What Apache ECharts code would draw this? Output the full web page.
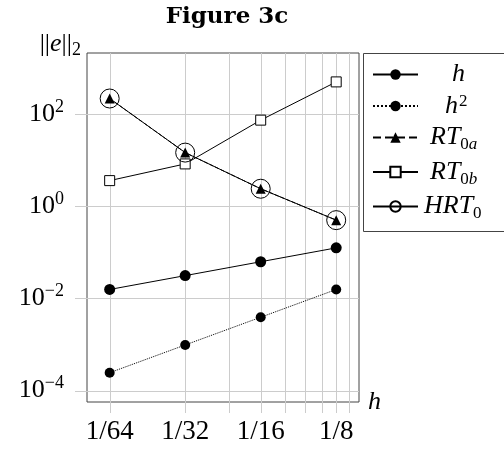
<!DOCTYPE html>
<html>
<head>
<meta charset="utf-8">
<script src="https://cdn.jsdelivr.net/npm/echarts@6/dist/echarts.min.js"></script>
<style>
html, body { margin: 0; padding: 0; background: #fff; }
#chart { width: 504px; height: 453px; }
</style>
</head>
<body>
<div id="chart"></div>
<script>
// mesh sizes and the error norms ||e||_2 for each method
var hValues = [1/64, 1/32, 1/16, 1/8];
var errH = [1/64, 1/32, 1/16, 1/8];
var errH2 = [1/4096, 1/1024, 1/256, 1/64];
var errRT0a = [218, 14.6, 2.4, 0.5];
var errRT0b = [3.6, 8.3, 74, 500];
var errHRT0 = [218, 14.6, 2.4, 0.5];

var seriesNames = ['h', 'h2', 'RT0a', 'RT0b', 'HRT0'];
var legendTexts = [
    '{p1| }{i|h}',
    '{p2| }{i|h}{sup|2}',
    '{p3| }{i|RT}{sub|0}{subi|a}',
    '{p3| }{i|RT}{sub|0}{subi|b}',
    '{p0| }{i|HRT}{sub|0}'
];
var xTickLabels = ['1/64', '1/32', '1/16', '1/8'];
var yTickExps = [-4, -2, 0, 2];

// grid lines (pgfplots style, also drawn as outside ticks)
var xGridValues = [1/64, 2/64, 3/64, 4/64, 5/64, 6/64, 7/64, 8/64, 9/64];
var yGridValues = [1e-4, 1e-2, 1, 1e2];

function pairs(ys) {
    return hValues.map(function (x, i) { return [x, ys[i]]; });
}

var serif = 'Liberation Serif';
var gridColor = '#cccccc';

var dom = document.getElementById('chart');
var myChart = echarts.init(dom);

function gridX(params, api) {
    var cs = params.coordSys;
    var x = Math.round(api.coord([api.value(0), 1])[0]) + 0.5;
    return {
        type: 'line',
        silent: true,
        shape: { x1: x, y1: cs.y, x2: x, y2: cs.y + cs.height + 11 },
        style: { stroke: gridColor, lineWidth: 1 }
    };
}

function gridY(params, api) {
    var cs = params.coordSys;
    var y = Math.round(api.coord([1/32, api.value(1)])[1]) + 0.5;
    return {
        type: 'line',
        silent: true,
        shape: { x1: cs.x - 12, y1: y, x2: cs.x + cs.width, y2: y },
        style: { stroke: gridColor, lineWidth: 1 }
    };
}

var option = {
    animation: false,
    title: {
        text: 'Figure 3c',
        left: 222,
        top: 1,
        textAlign: 'center',
        textStyle: { fontFamily: 'DejaVu Serif', fontWeight: 'bold', fontSize: 23, color: '#000' }
    },
    graphic: [
        {
            type: 'text',
            right: 504 - 81,
            top: 31,
            silent: true,
            style: {
                text: '{n|||}{i|e}{n|||}{s|2}',
                rich: {
                    n: { fontFamily: serif, fontSize: 26, lineHeight: 30, fill: '#000' },
                    i: { fontFamily: serif, fontStyle: 'italic', fontSize: 26, lineHeight: 30, fill: '#000' },
                    s: { fontFamily: serif, fontSize: 18, verticalAlign: 'bottom', fill: '#000' }
                }
            }
        },
        {
            // legend frame, running off the right edge like the original
            type: 'rect',
            silent: true,
            shape: { x: 363.5, y: 53.5, width: 200, height: 178 },
            style: { fill: 'none', stroke: '#444', lineWidth: 1 }
        }
    ],
    grid: {
        left: 87, top: 53, width: 272, height: 349,
        show: true, borderColor: '#444', borderWidth: 1,
        outerBoundsMode: 'none'
    },
    legend: {
        orient: 'vertical',
        left: 363,
        top: 53,
        padding: [8.5, 20, 8.5, 9],
        itemGap: 5.5,
        itemWidth: 45,
        itemHeight: 13,
        borderWidth: 0,
        selectedMode: false,
        data: seriesNames,
        formatter: function (name) {
            return legendTexts[seriesNames.indexOf(name)];
        },
        textStyle: {
            color: '#000',
            fontFamily: serif,
            fontSize: 25,
            rich: {
                i: { fontFamily: serif, fontStyle: 'italic', fontSize: 26, lineHeight: 32, color: '#000' },
                sup: { fontFamily: serif, fontSize: 17, verticalAlign: 'top', padding: [3, 0, 0, 1], color: '#000' },
                sub: { fontFamily: serif, fontSize: 17, verticalAlign: 'bottom', color: '#000' },
                subi: { fontFamily: serif, fontStyle: 'italic', fontSize: 17, verticalAlign: 'bottom', color: '#000' },
                p0: { width: 1, lineHeight: 32 },
                p1: { width: 29, lineHeight: 32 },
                p2: { width: 22, lineHeight: 32 },
                p3: { width: 7, lineHeight: 32 }
            }
        }
    },
    xAxis: {
        type: 'log',
        logBase: 2,
        min: 0.01269,
        max: 0.1541,
        axisLine: { show: false },
        axisTick: { show: false },
        splitLine: { show: false },
        axisLabel: {
            margin: 16,
            color: '#000',
            fontFamily: serif,
            fontSize: 27,
            showMinLabel: false,
            showMaxLabel: false,
            formatter: function (v) {
                for (var i = 0; i < hValues.length; i++) {
                    if (Math.abs(v - hValues[i]) < 1e-6) return xTickLabels[i];
                }
                return '';
            }
        },
        name: 'h',
        nameLocation: 'end',
        nameGap: 9,
        nameTextStyle: { fontFamily: serif, fontStyle: 'italic', fontSize: 26, color: '#000', verticalAlign: 'middle' }
    },
    yAxis: {
        type: 'log',
        logBase: 10,
        min: Math.pow(10, -4.248),
        max: Math.pow(10, 3.326),
        axisLine: { show: false },
        axisTick: { show: false },
        splitLine: { show: false },
        axisLabel: {
            margin: 23,
            showMinLabel: false,
            showMaxLabel: false,
            formatter: function (v) {
                var e = Math.log(v) / Math.LN10;
                var r = Math.round(e);
                if (Math.abs(e - r) > 1e-6 || yTickExps.indexOf(r) < 0) return '';
                return '{b|10}{s|' + (r < 0 ? '\u2212' + (-r) : r) + '}';
            },
            rich: {
                b: { fontFamily: serif, fontSize: 26, lineHeight: 32, color: '#000' },
                s: { fontFamily: serif, fontSize: 18, verticalAlign: 'top', color: '#000' }
            }
        }
    },
    series: [
        {
            name: 'h', type: 'line', data: pairs(errH),
            symbol: 'circle', symbolSize: 11,
            lineStyle: { color: '#000', width: 1 },
            itemStyle: { color: '#000' }
        },
        {
            name: 'h2', type: 'line', data: pairs(errH2),
            symbol: 'circle', symbolSize: 10,
            lineStyle: { color: '#000', width: 1, type: 'dotted' },
            itemStyle: { color: '#000' }
        },
        {
            name: 'RT0a', type: 'line', data: pairs(errRT0a),
            symbol: 'triangle', symbolSize: 10,
            lineStyle: { color: '#000', width: 1, type: 'dashed' },
            itemStyle: { color: '#000' }
        },
        {
            name: 'RT0b', type: 'line', data: pairs(errRT0b),
            symbol: 'rect', symbolSize: 10,
            lineStyle: { color: '#000', width: 1 },
            itemStyle: { color: '#fff', borderColor: '#000', borderWidth: 1 }
        },
        {
            name: 'HRT0', type: 'line', data: pairs(errHRT0),
            symbol: 'circle', symbolSize: 19,
            lineStyle: { color: '#000', width: 1 },
            itemStyle: { color: 'rgba(0,0,0,0)', borderColor: '#000', borderWidth: 1 }
        },
        {
            type: 'custom', renderItem: gridX, silent: true, z: 1,
            data: xGridValues.map(function (v) { return [v, 1]; })
        },
        {
            type: 'custom', renderItem: gridY, silent: true, z: 1,
            data: yGridValues.map(function (v) { return [1/32, v]; })
        }
    ]
};

if (option && typeof option === "object") {
    myChart.setOption(option, true);
}
</script>
</body>
</html>
